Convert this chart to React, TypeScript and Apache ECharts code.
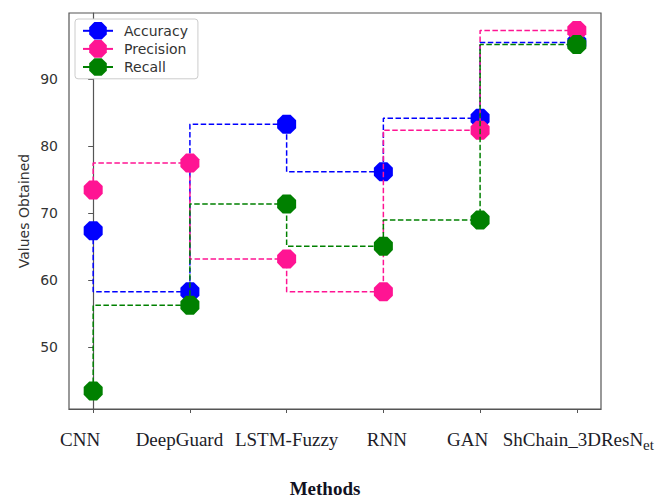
import React, { useEffect, useRef } from "react";
import * as echarts from "echarts";

const methods = ["CNN", "DeepGuard", "LSTM-Fuzzy", "RNN", "GAN", "ShChain_3DResNet"];
const accuracy = [67.4, 58.3, 83.3, 76.2, 84.2, 95.5];
const precision = [73.5, 77.5, 63.2, 58.3, 82.4, 97.3];
const recall = [43.5, 56.3, 71.4, 65.1, 69.0, 95.2];
const yTicks = [50, 60, 70, 80, 90];
const seriesNames = ["Accuracy", "Precision", "Recall"];
const seriesColors = ["#0000ff", "#ff1493", "#008000"];

// horizontal shift (px) of each x label relative to its tick, as in the reference
const labelShift = [-13, -10.5, 0, 3.5, -12.5, 1.5];

const octagon =
  "path://M-0.414,-1L0.414,-1L1,-0.414L1,0.414L0.414,1L-0.414,1L-1,0.414L-1,-0.414Z";

export default function App() {
  const ref = useRef<HTMLDivElement>(null);
  useEffect(() => {
    if (!ref.current) return;
    const chart = echarts.init(ref.current, null, { renderer: "svg" });
    const xIdx = methods.map((_, i) => i);
    const xMin = -0.25;
    const xMax = methods.length - 1 + 0.25;
    // empty guard labels at both ends so no real label is dropped by min/max overlap logic
    const labelValues = [xMin, ...xIdx, xMax];
    const rich: Record<string, any> = {};
    labelShift.forEach((d, i) => {
      const pad = [0, d < 0 ? -2 * d : 0, 0, d > 0 ? 2 * d : 0];
      rich["l" + i] = {
        fontFamily: "Liberation Serif",
        fontSize: 19,
        color: "#1c1c28",
        lineHeight: 26,
        verticalAlign: "middle",
        padding: pad,
      };
    });
    rich.main5 = {
      fontFamily: "Liberation Serif",
      fontSize: 19,
      color: "#1c1c28",
      lineHeight: 26,
      verticalAlign: "middle",
      padding: [0, 0, 0, 3],
    };
    rich.sub5 = {
      fontFamily: "Liberation Serif",
      fontSize: 15,
      color: "#1c1c28",
      lineHeight: 26,
      verticalAlign: "bottom",
    };
    const dataSets = [accuracy, precision, recall];
    chart.setOption({
      animation: false,
      backgroundColor: "#ffffff",
      grid: {
        left: 69,
        top: 13,
        right: 64,
        bottom: 89,
        show: true,
        borderColor: "#555555",
        borderWidth: 1.2,
        backgroundColor: "transparent",
      },
      legend: {
        orient: "vertical",
        left: 75,
        top: 19,
        itemWidth: 30,
        itemHeight: 22,
        itemGap: 0.5,
        padding: [3, 10, 3, 7],
        borderColor: "#cccccc",
        borderWidth: 1,
        borderRadius: 3,
        backgroundColor: "#ffffff",
        data: seriesNames,
        lineStyle: { type: "solid", width: 2 },
        textStyle: {
          fontFamily: "DejaVu Sans",
          fontSize: 14,
          color: "#333333",
          padding: [0, 0, 0, 6],
        },
      },
      xAxis: {
        type: "value",
        min: xMin,
        max: xMax,
        splitLine: { show: false },
        axisLine: { show: true, lineStyle: { color: "#555555", width: 1.2 } },
        axisTick: {
          show: true,
          length: 4,
          customValues: xIdx,
          lineStyle: { color: "#555555" },
        },
        axisLabel: {
          customValues: labelValues,
          margin: 17,
          showMinLabel: true,
          showMaxLabel: true,
          hideOverlap: false,
          formatter: (v: number) => {
            const i = Math.round(v);
            if (Math.abs(v - i) > 1e-6 || i < 0 || i >= methods.length) return "";
            if (i === methods.length - 1) {
              const name = methods[i];
              return "{main5|" + name.slice(0, -2) + "}{sub5|" + name.slice(-2) + "}";
            }
            return "{l" + i + "|" + methods[i] + "}";
          },
          rich,
        },
      },
      yAxis: {
        type: "value",
        min: 40.8,
        max: 99.9,
        splitLine: { show: false },
        axisLine: { show: true, lineStyle: { color: "#555555", width: 1.2 } },
        axisTick: {
          show: true,
          length: 5,
          customValues: yTicks,
          lineStyle: { color: "#555555" },
        },
        axisLabel: {
          customValues: yTicks,
          fontFamily: "DejaVu Sans",
          fontSize: 14,
          color: "#333333",
          margin: 11,
        },
      },
      graphic: [
        {
          type: "text",
          x: 24,
          y: 211,
          rotation: Math.PI / 2,
          style: {
            text: "Values Obtained",
            fontFamily: "DejaVu Sans",
            fontSize: 14,
            fill: "#333333",
            align: "center",
            verticalAlign: "middle",
          },
        },
        {
          type: "text",
          x: 325,
          y: 488,
          style: {
            text: "Methods",
            fontFamily: "Liberation Serif",
            fontWeight: "bold",
            fontSize: 19,
            fill: "#111122",
            align: "center",
            verticalAlign: "middle",
          },
        },
      ],
      series: seriesNames.map((name, s) => ({
        name,
        type: "line",
        step: "start",
        data: dataSets[s].map((v, i) => [i, v]),
        symbol: octagon,
        symbolSize: 19,
        showAllSymbol: true,
        color: seriesColors[s],
        itemStyle: { color: seriesColors[s] },
        lineStyle: { color: seriesColors[s], width: 1.5, type: [5.5, 2.5] },
        z: 2 + s,
      })),
    });
    return () => chart.dispose();
  }, []);
  return (
    <div
      ref={ref}
      style={{ position: "absolute", left: 0, top: 0, width: 665, height: 498 }}
    />
  );
}
